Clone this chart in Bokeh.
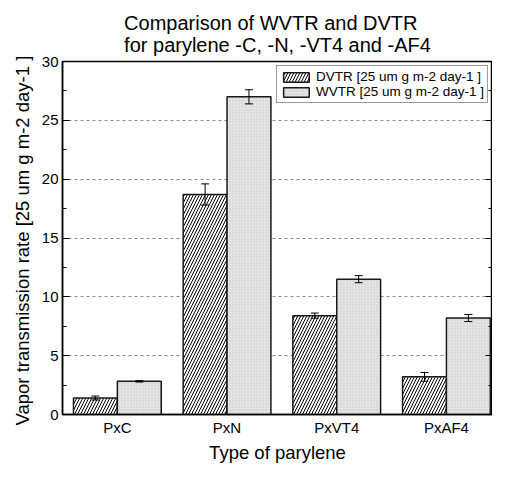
import numpy as np
from bokeh.plotting import figure
from bokeh.models import (ColumnDataSource, Range1d, FixedTicker, SingleIntervalTicker,
                          LinearAxis, Whisker, TeeHead, Title)
from bokeh.embed import file_html
from bokeh.resources import INLINE

# ---- data ----
categories = ["PxC", "PxN", "PxVT4", "PxAF4"]
dvtr = [1.4, 18.7, 8.4, 3.2]
dvtr_err = [0.17, 0.9, 0.22, 0.37]
wvtr = [2.82, 27.0, 11.5, 8.2]
wvtr_err = [0.06, 0.6, 0.3, 0.3]
y_ticks = [0, 5, 10, 15, 20, 25, 30]

dvtr_label = "DVTR [25 um g m-2 day-1 ]"
wvtr_label = "WVTR [25 um g m-2 day-1 ]"
title_text = "Comparison of WVTR and DVTR\nfor parylene -C, -N, -VT4 and -AF4"
x_title = "Type of parylene"
y_title = "Vapor  transmission rate [25 um g m-2 day-1 ]"

FONT = "Liberation Sans"
pos = np.arange(1, len(categories) + 1)
bar_w = 0.4

d = np.array(dvtr); de = np.array(dvtr_err)
w = np.array(wvtr); we = np.array(wvtr_err)
src_d = ColumnDataSource(dict(x=pos - bar_w / 2, top=d, upper=d + de, lower=d - de))
src_w = ColumnDataSource(dict(x=pos + bar_w / 2, top=w, upper=w + we, lower=w - we))

p = figure(width=492, height=465, x_range=Range1d(0.5, 4.42),
           y_range=Range1d(y_ticks[0], y_ticks[-1]),
           output_backend="svg", toolbar_location=None,
           min_border_left=62, min_border_right=0, min_border_top=61, min_border_bottom=42)

p.title = Title(text=title_text, align="center", text_font=FONT, text_font_size="20px",
                text_font_style="normal", text_color="black", standoff=12)

p.vbar(x="x", top="top", width=bar_w, source=src_d, fill_color="white",
       line_color="#1a1a1a", line_width=1.5, hatch_pattern="/", hatch_color="black",
       hatch_scale=6, hatch_weight=1, legend_label=dvtr_label)
p.vbar(x="x", top="top", width=bar_w, source=src_w, fill_color="#e4e4e4",
       line_color="#1a1a1a", line_width=1.5, hatch_pattern=".", hatch_color="#c8c8c8",
       hatch_scale=3, hatch_weight=1, legend_label=wvtr_label)

for src in (src_d, src_w):
    wk = Whisker(base="x", upper="upper", lower="lower", source=src, level="overlay",
                 line_color="black", line_width=1,
                 upper_head=TeeHead(size=8, line_color="black", line_width=1),
                 lower_head=TeeHead(size=8, line_color="black", line_width=1))
    p.add_layout(wk)

# axes
xa = p.xaxis[0]
xa.ticker = FixedTicker(ticks=list(pos))
xa.major_label_overrides = {int(k): v for k, v in zip(pos, categories)}
xa.major_tick_in = 0
xa.major_tick_out = 0
xa.minor_tick_in = 0
xa.minor_tick_out = 0
xa.axis_label = x_title

ya = p.yaxis[0]
ya.ticker = FixedTicker(ticks=y_ticks, minor_ticks=[t + 2.5 for t in y_ticks[:-1]])
ya.major_tick_in = 7
ya.major_tick_out = 0
ya.minor_tick_in = 4
ya.minor_tick_out = 0
ya.axis_label = y_title

ra = LinearAxis(ticker=FixedTicker(ticks=y_ticks, minor_ticks=[t + 2.5 for t in y_ticks[:-1]]),
                major_tick_in=7, major_tick_out=0, minor_tick_in=4, minor_tick_out=0,
                major_label_text_color=None, major_label_standoff=0,
                axis_line_width=1.5, axis_line_color="black")
p.add_layout(ra, "right")

for ax in (xa, ya):
    ax.axis_line_width = 1.5
    ax.axis_line_color = "black"
    ax.major_tick_line_color = "black"
    ax.minor_tick_line_color = "black"
    ax.major_label_text_font = FONT
    ax.major_label_text_font_size = "15px"
    ax.major_label_text_color = "black"
    ax.axis_label_text_font = FONT
    ax.axis_label_text_font_size = "18.5px"
    ax.axis_label_text_font_style = "normal"
    ax.axis_label_text_color = "black"
xa.major_label_standoff = 4
xa.axis_label_standoff = 3
ya.major_label_standoff = 4
ya.axis_label_standoff = 6

p.xgrid.grid_line_color = None
p.ygrid.ticker = FixedTicker(ticks=y_ticks)
p.ygrid.grid_line_color = "#8a8a8a"
p.ygrid.grid_line_dash = "3 3"
p.ygrid.grid_line_width = 1

p.outline_line_color = "black"
p.outline_line_width = 1.5
p.outline_line_alpha = 1

lg = p.legend[0]
lg.location = "top_right"
lg.margin = 4
lg.padding = 3
lg.spacing = 0
lg.glyph_width = 32
lg.glyph_height = 12
lg.label_height = 12
lg.label_standoff = 4
lg.label_text_font = FONT
lg.label_text_font_size = "13.5px"
lg.label_text_color = "black"
lg.border_line_color = "#333333"
lg.border_line_width = 1.5
lg.background_fill_alpha = 1

open("out.html", "w").write(file_html(p, INLINE))
